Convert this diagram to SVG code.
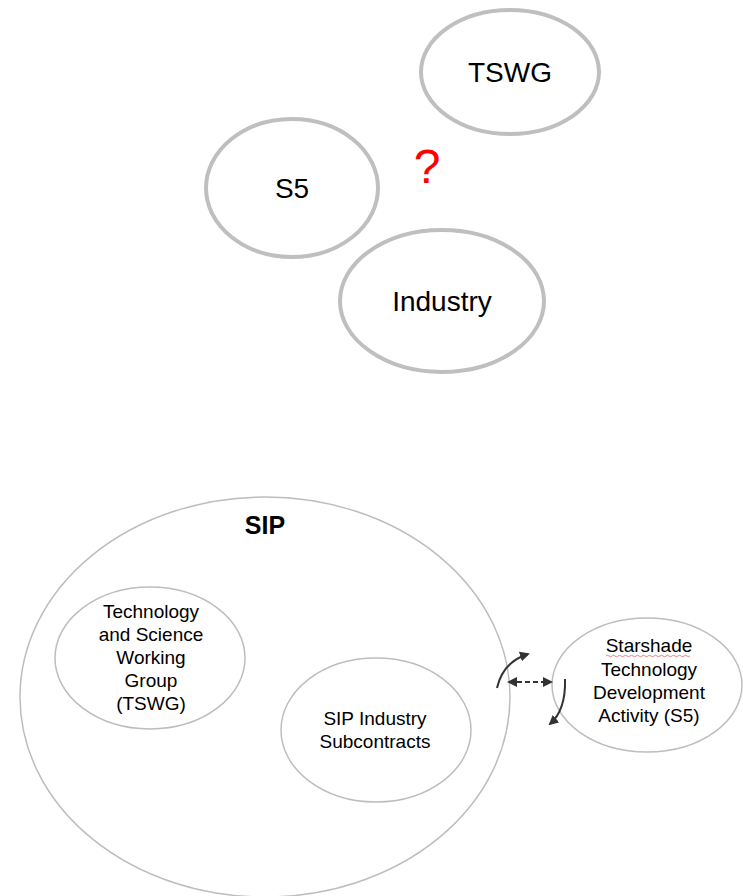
<svg xmlns="http://www.w3.org/2000/svg" width="743" height="896" viewBox="0 0 743 896">
<style>
.thick{fill:none;stroke:#bfbfbf;stroke-width:4}
.thin{fill:none;stroke:#bdbdbd;stroke-width:1.5}
.t{font-family:"Liberation Sans",Arial,sans-serif;fill:#000;text-anchor:middle}
.big{font-size:28px}
.mid{font-size:19px}
.arr{fill:none;stroke:#333;stroke-width:2}
</style>
<defs>
<marker id="ah" viewBox="0 0 10 10" refX="8" refY="5" markerWidth="5" markerHeight="5" orient="auto-start-reverse">
<path d="M0,0 L10,5 L0,10 z" fill="#333"/>
</marker>
</defs>
<rect width="743" height="896" fill="#fff"/>
<g id="tswg-top">
<ellipse class="thick" cx="510" cy="72" rx="89" ry="62"/>
<text class="t big" x="510" y="82">TSWG</text>
</g>
<g id="s5-top">
<ellipse class="thick" cx="292" cy="188" rx="86" ry="69"/>
<text class="t big" x="292" y="198">S5</text>
</g>
<g id="industry-top">
<ellipse class="thick" cx="442" cy="301" rx="102" ry="71"/>
<text class="t big" x="442" y="311">Industry</text>
</g>
<g id="question">
<text class="t" x="427" y="183" font-size="48" style="fill:#ff0000">?</text>
</g>
<g id="sip">
<ellipse class="thin" cx="265" cy="697" rx="245" ry="200"/>
<text class="t" x="265" y="534" font-size="25" font-weight="bold">SIP</text>
</g>
<g id="tswg">
<ellipse class="thin" cx="150" cy="658" rx="95" ry="71"/>
<text class="t mid" x="151" y="618">Technology</text>
<text class="t mid" x="151" y="641">and Science</text>
<text class="t mid" x="151" y="664">Working</text>
<text class="t mid" x="151" y="687">Group</text>
<text class="t mid" x="151" y="710">(TSWG)</text>
</g>
<g id="industry">
<ellipse class="thin" cx="376" cy="730" rx="95" ry="72"/>
<text class="t mid" x="375" y="725">SIP Industry</text>
<text class="t mid" x="375" y="748">Subcontracts</text>
</g>
<g id="s5">
<ellipse class="thin" cx="647" cy="685" rx="95" ry="67"/>
<text class="t mid" x="649" y="652">Starshade</text>
<path d="M606,656 q1.5,-1.5 3,0 t3,0 t3,0 t3,0 t3,0 t3,0 t3,0 t3,0 t3,0 t3,0 t3,0 t3,0 t3,0 t3,0 t3,0 t3,0 t3,0 t3,0 t3,0 t3,0 t3,0 t3,0 t3,0 t3,0 t3,0 t3,0 t3,0 t3,0" fill="none" stroke="#e06060" stroke-width="0.8"/>
<text class="t mid" x="649" y="676">Technology</text>
<text class="t mid" x="649" y="699">Development</text>
<text class="t mid" x="649" y="722">Activity (S5)</text>
</g>
<g id="connectors">
<path class="arr" d="M497,688 Q503,662 528,654" marker-end="url(#ah)"/>
<path class="arr" d="M509,682 L551,682" stroke-dasharray="5,3" marker-start="url(#ah)" marker-end="url(#ah)"/>
<path class="arr" d="M565,679 Q566,710 550,724" marker-end="url(#ah)"/>
</g>
</svg>
